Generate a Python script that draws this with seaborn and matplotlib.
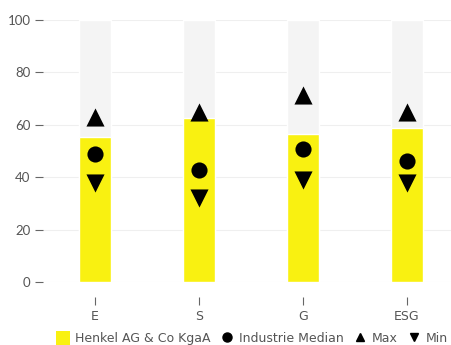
import matplotlib
matplotlib.use("Agg")
import matplotlib.pyplot as plt
import seaborn as sns
import pandas as pd
from matplotlib.lines import Line2D
from matplotlib.patches import Patch

categories = ["E", "S", "G", "ESG"]
company = [55.5, 62.5, 56.5, 58.8]
median = [48.9, 42.7, 50.6, 46.3]
maxv = [62.8, 65.0, 71.4, 65.0]
minv = [37.7, 31.9, 38.9, 37.9]
full = [100, 100, 100, 100]
company_name = "Henkel AG & Co KgaA"

sns.set_theme(style="white")
plt.rcParams['font.family'] = ['Lato', 'DejaVu Sans']

df = pd.DataFrame({"cat": categories, "company": company, "median": median,
                   "max": maxv, "min": minv, "full": full})

fig = plt.figure(figsize=(4.51, 3.45), dpi=100)
ax = fig.add_axes([43/451, 1-282/345, 1-43/451, (282-20)/345])

sns.barplot(data=df, x="cat", y="full", color="#f4f4f4", width=0.31,
            saturation=1, ax=ax, zorder=1)
sns.barplot(data=df, x="cat", y="company", color="#f9f111", width=0.31,
            saturation=1, ax=ax, zorder=2)
sns.scatterplot(data=df, x="cat", y="median", marker="o", s=135, color="black",
                linewidth=0, ax=ax, zorder=3)
sns.scatterplot(data=df, x="cat", y="max", marker="^", s=170, color="black",
                linewidth=0, ax=ax, zorder=3)
sns.scatterplot(data=df, x="cat", y="min", marker="v", s=170, color="black",
                linewidth=0, ax=ax, zorder=3)

ax.set_xlim(-0.5, (451-95)/104)
ax.set_ylim(0, 100)
ax.set_yticks([0, 20, 40, 60, 80, 100])
ax.yaxis.grid(True, color="#efefef", linewidth=0.8)
ax.set_axisbelow(True)
for sp in ax.spines.values():
    sp.set_visible(False)
ax.spines['bottom'].set_position(('outward', 11))
ax.tick_params(axis='y', left=True, length=6, width=0.8, color="#666666",
               labelcolor="#555555", labelsize=9.5, pad=3)
ax.tick_params(axis='x', bottom=True, length=6, width=0.8, color="#666666",
               labelcolor="#555555", labelsize=9, pad=3)
for lab in ax.get_xticklabels():
    lab.set_fontfamily(['DejaVu Sans'])
ax.set_xlabel("")
ax.set_ylabel("")

handles = [
    Patch(facecolor="#f9f111", edgecolor="none"),
    Line2D([], [], marker="o", color="black", linestyle="none", markersize=6.5),
    Line2D([], [], marker="^", color="black", linestyle="none", markersize=6),
    Line2D([], [], marker="v", color="black", linestyle="none", markersize=6),
]
labels = [company_name, "Industrie Median", "Max", "Min"]
leg = fig.legend(handles, labels, loc="center", bbox_to_anchor=(252/451, 1-338/345),
                 ncol=4, frameon=False, handlelength=1.15,
                 handleheight=1.35, handletextpad=0.4, columnspacing=0.7,
                 labelcolor="#555555",
                 prop={"family": ["DejaVu Sans"], "size": 9})

fig.savefig("out.png", dpi=100)
